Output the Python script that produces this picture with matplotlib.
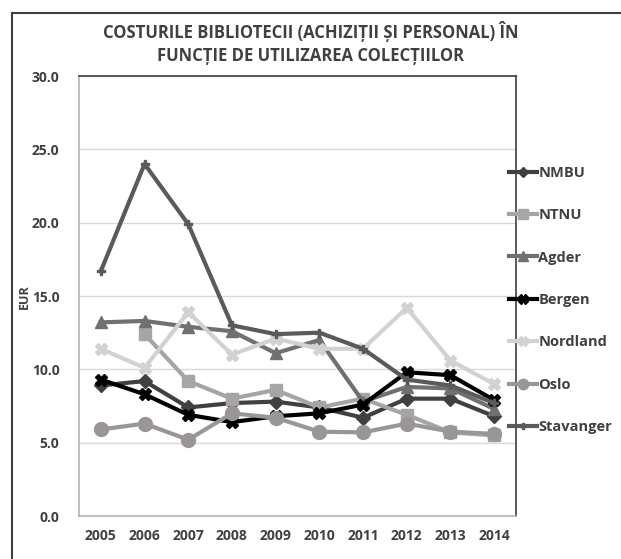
import numpy as np
import matplotlib
matplotlib.use("Agg")
import matplotlib.pyplot as plt
from matplotlib.lines import Line2D

plt.rcParams["font.family"] = ["Open Sans", "DejaVu Sans"]

years = ["2005", "2006", "2007", "2008", "2009", "2010", "2011", "2012", "2013", "2014"]

nmbu = [8.9, 9.2, 7.4, 7.7, 7.8, 7.4, 6.7, 8.0, 8.0, 6.8]
ntnu = [np.nan, 12.4, 9.2, 8.0, 8.6, 7.4, 8.0, 6.9, 5.7, 5.5]
agder = [13.2, 13.3, 12.9, 12.6, 11.1, 12.0, 7.8, 8.8, 8.7, 7.3]
bergen = [9.3, 8.3, 6.9, 6.4, 6.8, 7.0, 7.6, 9.8, 9.6, 7.9]
nordland = [11.4, 10.1, 13.9, 11.0, 12.1, 11.4, 11.4, 14.2, 10.6, 9.0]
oslo = [5.9, 6.3, 5.2, 7.0, 6.7, 5.75, 5.7, 6.3, 5.75, 5.6]
stavanger = [16.7, 24.0, 19.9, 13.0, 12.4, 12.5, 11.4, 9.3, 8.9, 7.7]

series = [
    ("NMBU", nmbu, "#404040", "D", 7),
    ("NTNU", ntnu, "#a5a5a5", "s", 9),
    ("Agder", agder, "#707070", "^", 9),
    ("Bergen", bergen, "#000000", "X", 9),
    ("Nordland", nordland, "#d2d2d2", "X", 9),
    ("Oslo", oslo, "#9a9696", "o", 10),
    ("Stavanger", stavanger, "#5a5a5a", "P", 6),
]

fig = plt.figure(figsize=(6.21, 5.59), dpi=100)
ax = fig.add_axes([79 / 621, 43 / 559, 437 / 621, 440 / 559])

x = np.arange(len(years))
handles = []
for name, vals, col, mk, ms in series:
    ax.plot(x, vals, color=col, lw=3, marker=mk, markersize=ms,
            markerfacecolor=col, markeredgecolor=col, solid_joinstyle="round")
    handles.append(Line2D([], [], color=col, lw=3, marker=mk,
                          markersize=ms * 0.75, markerfacecolor=col,
                          markeredgecolor=col, label=name))

ax.set_xlim(-0.5, len(years) - 0.5)
ax.set_ylim(0, 30)
ax.set_yticks(np.arange(0, 31, 5))
ax.set_yticklabels([f"{v:.1f}" for v in np.arange(0, 31, 5)])
ax.set_xticks(x)
ax.set_xticklabels(years)
ax.tick_params(axis="both", length=0, labelsize=10, labelcolor="#404040")
ax.tick_params(axis="y", pad=14)
ax.tick_params(axis="x", pad=9)
for lab in ax.get_xticklabels() + ax.get_yticklabels():
    lab.set_fontweight("bold")

ax.grid(axis="y", color="#d9d9d9", lw=1)
ax.set_axisbelow(True)
ax.spines["left"].set_color("#b4b4b4")
ax.spines["bottom"].set_color("#b4b4b4")
ax.spines["top"].set_color("#404040")
ax.spines["right"].set_color("#404040")
for s in ax.spines.values():
    s.set_linewidth(1.2)

fig.text(0.039, 0.47, "EUR", rotation=90, ha="center", va="center",
         fontsize=9, fontweight="bold", color="#404040")

fig.text(0.5, 1 - 43 / 559, "COSTURILE BIBLIOTECII (ACHIZIȚII ȘI PERSONAL) ÎN\nFUNCȚIE DE UTILIZAREA COLECȚIILOR",
         ha="center", va="center", fontsize=12, fontweight="bold",
         color="#404040", linespacing=1.3)

leg = fig.legend(handles=handles, loc="center left",
                 bbox_to_anchor=(509 / 621, 1 - 300 / 559), frameon=False,
                 borderpad=0, borderaxespad=0, handlelength=1.9,
                 handletextpad=0.1, labelspacing=1.95,
                 prop={"size": 10.5, "weight": "bold"})
for t in leg.get_texts():
    t.set_color("#404040")

# outer frame lines along the top and left edges
fig.add_artist(Line2D([12 / 621, 1], [1 - 13 / 559] * 2, color="#404040", lw=1.5))
fig.add_artist(Line2D([12 / 621] * 2, [0, 1 - 13 / 559], color="#404040", lw=1.5))

fig.savefig("out.png", dpi=100)
